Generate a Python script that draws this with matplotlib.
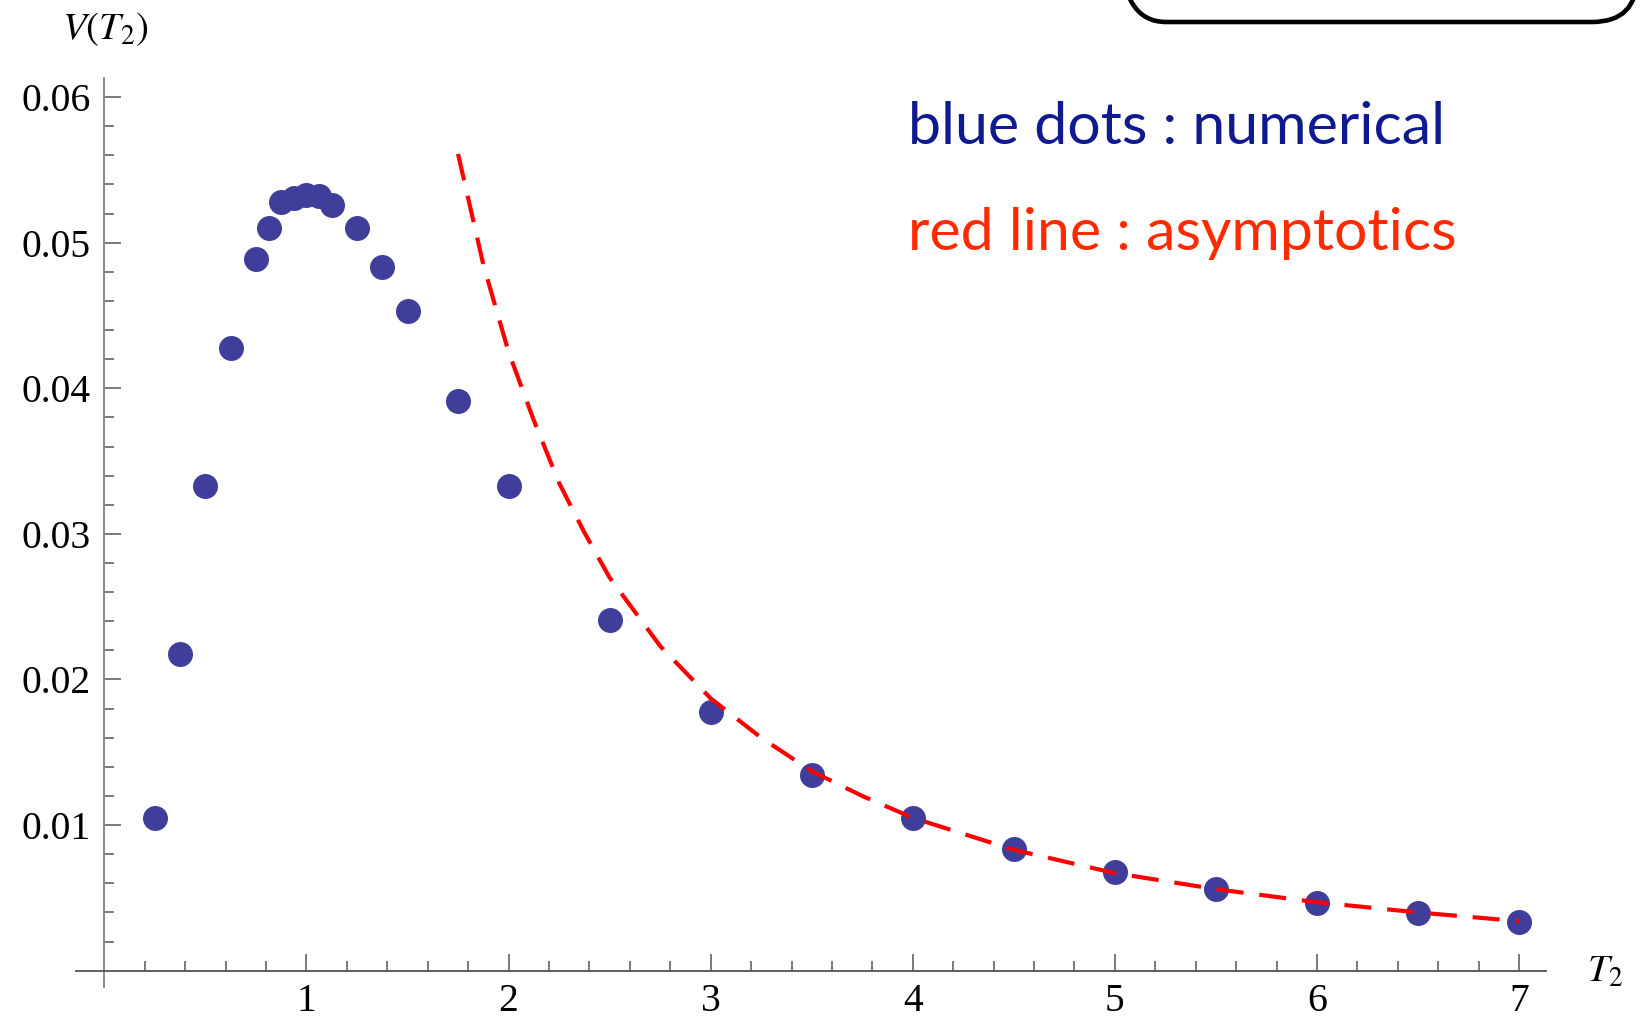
import numpy as np
import matplotlib
matplotlib.use('Agg')
import matplotlib.pyplot as plt
from matplotlib.patches import FancyBboxPatch
from matplotlib.transforms import IdentityTransform
from matplotlib.ticker import FixedLocator

# numerical values (blue dots)
t2_num = [0.25, 0.375, 0.5, 0.625, 0.75, 0.8125, 0.875, 0.9375, 1.0, 1.0625,
          1.125, 1.25, 1.375, 1.5, 1.75, 2.0, 2.5, 3.0, 3.5, 4.0,
          4.5, 5.0, 5.5, 6.0, 6.5, 7.0]
v_num = [0.0105, 0.02175, 0.0333, 0.0428, 0.0489, 0.0510, 0.0528, 0.0531, 0.0533, 0.0532,
         0.0526, 0.0510, 0.0483, 0.0453, 0.0391, 0.0333, 0.0241, 0.0178, 0.01346, 0.0105,
         0.00834, 0.00676, 0.0056, 0.00466, 0.00394, 0.00337]

# asymptotic curve (red dashed)
t2_asym = [1.75, 1.875, 2.0, 2.125, 2.25, 2.375, 2.5, 2.75, 3.0, 3.25, 3.5, 3.75,
           4.0, 4.5, 5.0, 5.5, 6.0, 6.5, 7.0]
v_asym = [0.0561, 0.0485, 0.0425, 0.0378, 0.0335, 0.0301, 0.0270, 0.0223, 0.0187, 0.0160,
          0.0137, 0.0120, 0.0105, 0.0083, 0.0067, 0.0056, 0.0047, 0.0040, 0.0034]

x_ticks = [1, 2, 3, 4, 5, 6, 7]
y_ticks = [0.01, 0.02, 0.03, 0.04, 0.05, 0.06]
y_ticklabels = ['0.01', '0.02', '0.03', '0.04', '0.05', '0.06']

plt.rcParams['mathtext.fontset'] = 'stix'

W, H = 1646, 1021
fig = plt.figure(figsize=(W / 100, H / 100), dpi=100)
ax = fig.add_axes([0.0462, 0.0336, 0.8933, 0.8898])

ax.plot(t2_num, v_num, 'o', color='#3f3f9b', markersize=18, markeredgewidth=0, zorder=3)
ax.plot(t2_asym, v_asym, color='#ff0000', lw=3.0, dashes=(6.5, 3.8), zorder=4)

ax.set_xlim(-0.14, 7.135)
ax.set_ylim(-0.0011, 0.0613)

for s in ['top', 'right']:
    ax.spines[s].set_visible(False)
ax.spines['left'].set_position(('data', 0))
ax.spines['bottom'].set_position(('data', 0))
ax.spines['left'].set_color('#808080')
ax.spines['bottom'].set_color('#505050')
ax.spines['left'].set_linewidth(1.3)
ax.spines['bottom'].set_linewidth(1.3)

ax.xaxis.set_major_locator(FixedLocator(x_ticks))
ax.xaxis.set_minor_locator(FixedLocator([v / 5 for v in range(1, 36) if v % 5]))
ax.yaxis.set_major_locator(FixedLocator(y_ticks))
ax.yaxis.set_minor_locator(FixedLocator([v / 500 for v in range(1, 31) if v % 5]))
ax.set_xticklabels([str(v) for v in x_ticks])
ax.set_yticklabels(y_ticklabels)

ax.tick_params(which='both', direction='in', colors='#555555', width=1.1)
ax.tick_params(which='major', length=12)
ax.tick_params(which='minor', length=7)
ax.tick_params(axis='x', pad=9)
ax.tick_params(axis='y', pad=10)
for lab in ax.get_xticklabels() + ax.get_yticklabels():
    lab.set_fontfamily('Liberation Serif')
    lab.set_fontsize(28.5)
    lab.set_color('black')

# axis labels
fig.text(105 / W, 1 - 29 / H, r'$V(T_2)$', fontsize=28, ha='center', va='center')
fig.text(1587 / W, 1 - 971 / H, r'$T_2$', fontsize=28, ha='left', va='center')

# annotation texts
fig.text(908 / W, 1 - 144 / H, 'blue dots : numerical', family='Lato',
         fontsize=42.5, color='#0f1a90', ha='left', va='baseline')
fig.text(908 / W, 1 - 250 / H, 'red line : asymptotics', family='Lato',
         fontsize=42.5, color='#ff2a00', ha='left', va='baseline')

# rounded box cut by the top edge
box = FancyBboxPatch((1121, H - 22), 516, 120,
                     boxstyle='round,pad=0,rounding_size=45',
                     transform=IdentityTransform(), fill=False,
                     edgecolor='black', linewidth=3.3)
fig.add_artist(box)

fig.savefig('out.png', dpi=100)
